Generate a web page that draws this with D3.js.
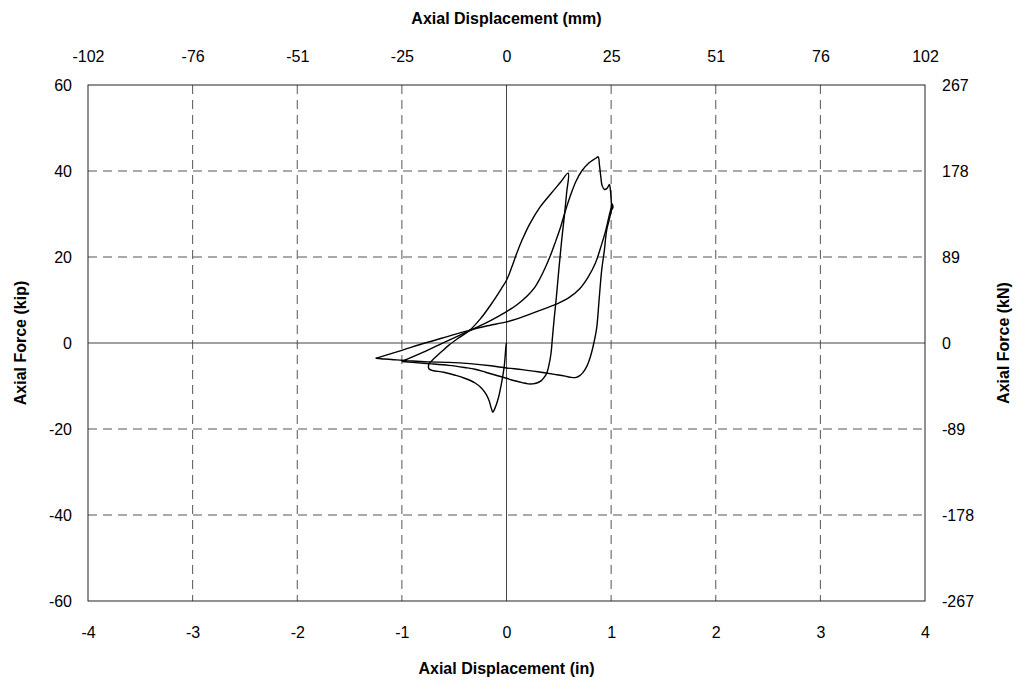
<!DOCTYPE html>
<html>
<head>
<meta charset="utf-8">
<script src="https://cdn.jsdelivr.net/npm/d3@7"></script>
<style>
  html, body { margin: 0; padding: 0; background: #fff; }
  svg { display: block; font-family: Arial, "Liberation Sans", sans-serif; }
  .tick text { font-size: 16px; fill: #000; }
  .title { font-size: 16px; font-weight: bold; fill: #000; }
</style>
</head>
<body>
<svg id="chart" width="1020" height="685"></svg>
<script>
// ---------- data ----------
const inchTicks = [-4, -3, -2, -1, 0, 1, 2, 3, 4];
const inchLabels = ["-4", "-3", "-2", "-1", "0", "1", "2", "3", "4"];
const mmLabels = ["-102", "-76", "-51", "-25", "0", "25", "51", "76", "102"];
const kipTicks = [60, 40, 20, 0, -20, -40, -60];
const kipLabels = ["60", "40", "20", "0", "-20", "-40", "-60"];
const kNLabels = ["267", "178", "89", "0", "-89", "-178", "-267"];

// initial compression (buckling) and reversal
const c0Disp  = [0, -0.004, -0.022, -0.048, -0.079, -0.111, -0.13, -0.145, -0.165, -0.19, -0.238, -0.30, -0.40, -0.49, -0.60, -0.74, -0.74];
const c0Force = [0, -0.5, -5.5, -9.4, -12.9, -15.2, -16.1, -15.2, -13.5, -12.1, -10.5, -9.3, -8.2, -7.5, -6.8, -6.05, -4.7];

// first tension excursion and return to -1.0 in
const c1Disp  = [-0.74, -0.70, -0.62, -0.55, -0.45, -0.35, -0.25, -0.15, -0.05, 0.0, 0.05, 0.10, 0.15, 0.22, 0.32, 0.42, 0.51, 0.59,
                 0.575, 0.555, 0.53, 0.50, 0.476, 0.455, 0.44, 0.425, 0.405, 0.385, 0.36, 0.33, 0.29, 0.25, 0.208, 0.15, 0.05, 0.0, -0.10, -0.20, -0.30, -0.40, -0.55, -0.74, -0.90, -1.0];
const c1Force = [-4.7, -3.8, -2.0, -0.5, 1.3, 3.0, 5.6, 8.9, 12.6, 14.6, 17.6, 21.0, 24.0, 27.6, 31.6, 34.6, 37.2, 39.5,
                 35.0, 30.0, 24.5, 17.0, 10.5, 5.5, 1.5, -2.5, -5.2, -7.0, -8.0, -8.8, -9.3, -9.5, -9.5, -9.2, -8.6, -8.2, -7.5, -6.8, -6.1, -5.7, -5.2, -4.8, -4.5, -4.3];

// second tension excursion and return to -1.25 in
const c2Disp  = [-1.0, -0.80, -0.60, -0.45, -0.35, -0.20, -0.10, 0.0, 0.10, 0.20, 0.272, 0.32, 0.37, 0.416, 0.46, 0.511, 0.56, 0.607, 0.66, 0.719, 0.79, 0.85, 0.876,
                 0.888, 0.902, 0.914, 0.937, 0.962, 0.984, 0.992, 1.0, 1.003, 0.99, 0.958, 0.935, 0.91, 0.885, 0.862, 0.835, 0.81, 0.785, 0.76, 0.73, 0.70, 0.667, 0.62, 0.56, 0.46, 0.30, 0.15, 0.0, -0.15, -0.35, -0.55, -0.75, -0.90, -1.0, -1.10, -1.20, -1.25];
const c2Force = [-4.3, -2.2, 0.1, 1.8, 2.9, 4.6, 5.9, 7.3, 8.9, 11.0, 13.0, 15.0, 17.5, 20.1, 23.0, 26.5, 30.5, 34.0, 37.4, 40.0, 41.9, 42.9, 43.3,
                 41.5, 38.5, 36.6, 35.7, 36.0, 36.9, 35.8, 33.5, 31.0, 29.5, 26.3, 21.5, 17.0, 10.0, 3.5, 0.0, -2.5, -4.4, -5.8, -6.9, -7.6, -8.0, -8.0, -7.7, -7.3, -6.7, -6.2, -5.8, -5.3, -4.8, -4.5, -4.4, -4.2, -4.0, -3.85, -3.65, -3.56];

// third tension excursion
const c3Disp  = [-1.25, -1.0, -0.78, -0.55, -0.35, -0.20, 0.0, 0.10, 0.20, 0.30, 0.40, 0.50, 0.60, 0.70, 0.78, 0.85, 0.91, 0.95, 0.99, 1.012, 1.004, 1.018, 1.01];
const c3Force = [-3.56, -1.7, 0.0, 1.6, 3.0, 3.9, 4.9, 5.6, 6.5, 7.4, 8.3, 9.3, 10.6, 12.6, 15.3, 18.6, 23.0, 26.3, 30.5, 32.3, 31.0, 31.6, 32.4];

// ---------- chart ----------
const svg = d3.select("#chart");
const pLeft = 88, pRight = 925, pTop = 85, pBottom = 601;

const x = d3.scaleLinear().domain([-4, 4]).range([pLeft, pRight]);
const y = d3.scaleLinear().domain([-60, 60]).range([pBottom, pTop]);

// grid
const grid = svg.append("g");
grid.selectAll(".vg").data(inchTicks.filter(d => d !== 0 && Math.abs(d) !== 4)).enter()
  .append("line")
  .attr("x1", d => x(d)).attr("x2", d => x(d))
  .attr("y1", pTop).attr("y2", pBottom)
  .attr("stroke", "#555").attr("stroke-width", 1).attr("stroke-dasharray", "9,6");
grid.selectAll(".hg").data(kipTicks.filter(d => d !== 0 && Math.abs(d) !== 60)).enter()
  .append("line")
  .attr("x1", pLeft).attr("x2", pRight)
  .attr("y1", d => y(d)).attr("y2", d => y(d))
  .attr("stroke", "#555").attr("stroke-width", 1).attr("stroke-dasharray", "9,6");

// zero lines
svg.append("line").attr("x1", x(0)).attr("x2", x(0)).attr("y1", pTop).attr("y2", pBottom)
  .attr("stroke", "#444").attr("stroke-width", 1);
svg.append("line").attr("x1", pLeft).attr("x2", pRight).attr("y1", y(0)).attr("y2", y(0))
  .attr("stroke", "#444").attr("stroke-width", 1);

// frame
svg.append("rect").attr("x", pLeft).attr("y", pTop).attr("width", pRight - pLeft).attr("height", pBottom - pTop)
  .attr("fill", "none").attr("stroke", "#222").attr("stroke-width", 1);

// axes (labels only)
const axB = d3.axisBottom(x).tickValues(inchTicks).tickSize(0).tickPadding(26)
  .tickFormat((d, i) => inchLabels[i]);
const axT = d3.axisTop(x).tickValues(inchTicks).tickSize(0).tickPadding(23)
  .tickFormat((d, i) => mmLabels[i]);
const axL = d3.axisLeft(y).tickValues(kipTicks).tickSize(0).tickPadding(16)
  .tickFormat((d, i) => kipLabels[i]);
const axR = d3.axisRight(y).tickValues(kipTicks).tickSize(0).tickPadding(17)
  .tickFormat((d, i) => kNLabels[i]);

function styleAxis(g) { g.select(".domain").remove(); g.selectAll("text").attr("font-family", "Arial, 'Liberation Sans', sans-serif"); }
svg.append("g").attr("transform", `translate(0,${pBottom})`).call(axB).call(styleAxis);
svg.append("g").attr("transform", `translate(0,${pTop})`).call(axT).call(styleAxis);
svg.append("g").attr("transform", `translate(${pLeft},0)`).call(axL).call(styleAxis);
svg.append("g").attr("transform", `translate(${pRight},0)`).call(axR).call(styleAxis);

// titles
svg.append("text").attr("class", "title").attr("x", x(0)).attr("y", 674)
  .attr("text-anchor", "middle").text("Axial Displacement (in)");
svg.append("text").attr("class", "title").attr("x", x(0)).attr("y", 24)
  .attr("text-anchor", "middle").text("Axial Displacement (mm)");
svg.append("text").attr("class", "title")
  .attr("transform", `translate(26,${y(0)}) rotate(-90)`)
  .attr("text-anchor", "middle").text("Axial Force (kip)");
svg.append("text").attr("class", "title")
  .attr("transform", `translate(1009,${y(0)}) rotate(-90)`)
  .attr("text-anchor", "middle").text("Axial Force (kN)");

// hysteresis curve
const line = d3.line().x(d => x(d[0])).y(d => y(d[1])).curve(d3.curveCatmullRom.alpha(0.5));
const cycles = [[c0Disp, c0Force], [c1Disp, c1Force], [c2Disp, c2Force], [c3Disp, c3Force]];
const g = svg.append("g");
cycles.forEach(([dx, fy]) => {
  g.append("path")
    .datum(dx.map((v, i) => [v, fy[i]]))
    .attr("d", line)
    .attr("fill", "none").attr("stroke", "#000").attr("stroke-width", 1.4)
    .attr("stroke-linejoin", "round");
});
</script>
</body>
</html>
